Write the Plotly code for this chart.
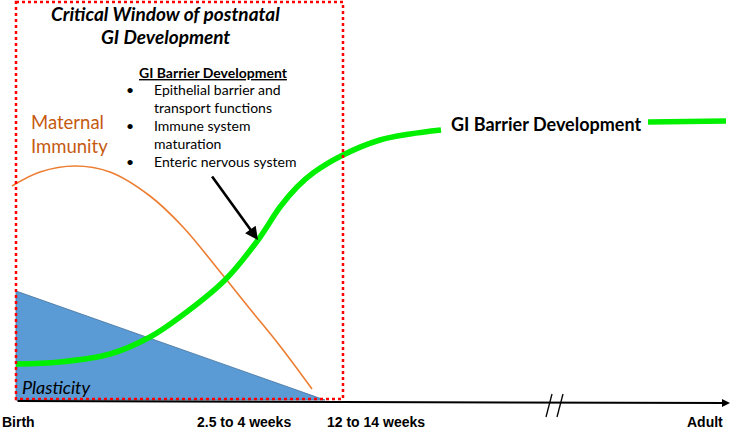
import plotly.graph_objects as go

# ---- data (in picture coordinates: x to the right, y downward) ----
maternal_x = [12, 40, 75, 110, 150, 183, 217, 250, 280, 312]
maternal_y = [186, 172, 166, 172, 196, 227, 268, 309, 346, 389]

barrier_x = [16, 60, 110, 150, 180, 225, 258, 280, 297, 313, 343, 380, 410, 441]
barrier_y = [364, 362, 354, 337, 317, 280, 240, 207, 187, 173, 155, 140, 134, 130]

barrier_tail_x = [648, 726]
barrier_tail_y = [122, 121]

plasticity_x = [16, 16, 325, 16]
plasticity_y = [291, 400, 400, 291]

window_x = [16, 343]
window_y = [2, 399]

tick_labels = ["Birth", "2.5 to 4 weeks", "12 to 14 weeks", "Adult"]
tick_x = [0, 244, 376, 725]
tick_anchor = ["left", "center", "center", "right"]

bullets = ["Epithelial barrier and", "transport functions", "Immune system",
           "maturation", "Enteric nervous system"]
bullet_y = [89, 107, 125, 143, 161]
bullet_marks = [True, False, True, False, True]

FONT = "Lato"

fig = go.Figure()

fig.add_trace(go.Scatter(x=plasticity_x, y=plasticity_y, fill="toself",
                         fillcolor="#5B9BD5", mode="lines",
                         line=dict(color="#41719C", width=0.8), hoverinfo="skip"))
fig.add_trace(go.Scatter(x=maternal_x, y=maternal_y, mode="lines",
                         line=dict(color="#ED7D31", width=1.6, shape="spline", smoothing=1),
                         hoverinfo="skip"))
fig.add_trace(go.Scatter(x=barrier_x, y=barrier_y, mode="lines",
                         line=dict(color="#00F000", width=5.5, shape="spline", smoothing=1),
                         hoverinfo="skip"))
fig.add_trace(go.Scatter(x=barrier_tail_x, y=barrier_tail_y, mode="lines",
                         line=dict(color="#00F000", width=5.5), hoverinfo="skip"))

shapes = [
    dict(type="rect", x0=window_x[0], x1=window_x[1], y0=window_y[0], y1=window_y[1],
         line=dict(color="#FF0000", width=2.5, dash="dot"), layer="above"),
    dict(type="line", x0=552, y0=394, x1=546, y1=417, line=dict(color="black", width=1.3)),
    dict(type="line", x0=563, y0=394, x1=557, y1=417, line=dict(color="black", width=1.3)),
]

ann = []
ann.append(dict(x=730, y=403, ax=16, ay=401, xref="x", yref="y", axref="x", ayref="y",
                text="", showarrow=True, arrowhead=2, arrowsize=0.8, arrowwidth=2,
                arrowcolor="black"))
ann.append(dict(x=258, y=240, ax=211, ay=175, xref="x", yref="y", axref="x", ayref="y",
                text="", showarrow=True, arrowhead=2, arrowsize=1, arrowwidth=2.6,
                arrowcolor="black"))

for t, xx, an in zip(tick_labels, tick_x, tick_anchor):
    ann.append(dict(x=xx, y=422, text="<b>" + t + "</b>", showarrow=False,
                    xanchor=an, yanchor="middle",
                    font=dict(family="Liberation Sans", size=14, color="black")))

ann.append(dict(x=165, y=13, text="<b><i>Critical Window of postnatal</i></b>",
                showarrow=False, xanchor="center", yanchor="middle",
                font=dict(family=FONT, size=19, color="black")))
ann.append(dict(x=165, y=36, text="<b><i>GI Development</i></b>",
                showarrow=False, xanchor="center", yanchor="middle",
                font=dict(family=FONT, size=19, color="black")))

ann.append(dict(x=137, y=72, text="<b><u>GI Barrier Development</u></b>",
                showarrow=False, xanchor="left", yanchor="middle",
                font=dict(family=FONT, size=14, color="black")))
for t, yy, m in zip(bullets, bullet_y, bullet_marks):
    ann.append(dict(x=152, y=yy, text=t, showarrow=False, xanchor="left",
                    yanchor="middle", font=dict(family=FONT, size=14, color="black")))
    if m:
        ann.append(dict(x=130, y=yy, text="•", showarrow=False, xanchor="center",
                        yanchor="middle", font=dict(family=FONT, size=14, color="black")))

ann.append(dict(x=29, y=122, text="Maternal", showarrow=False, xanchor="left",
                yanchor="middle", font=dict(family=FONT, size=18.5, color="#C55A11")))
ann.append(dict(x=29, y=146, text="Immunity", showarrow=False, xanchor="left",
                yanchor="middle", font=dict(family=FONT, size=18.5, color="#C55A11")))

ann.append(dict(x=449, y=124, text="<b>GI Barrier Development</b>", showarrow=False,
                xanchor="left", yanchor="middle",
                font=dict(family=FONT, size=18, color="black")))

ann.append(dict(x=20, y=387, text="<i>Plasticity</i>", showarrow=False, xanchor="left",
                yanchor="middle", font=dict(family=FONT, size=18, color="black")))

fig.update_layout(
    width=731, height=434, margin=dict(l=0, r=0, t=0, b=0),
    paper_bgcolor="white", plot_bgcolor="white", showlegend=False,
    xaxis=dict(range=[0, 731], visible=False, fixedrange=True),
    yaxis=dict(range=[434, 0], visible=False, fixedrange=True),
    shapes=shapes, annotations=ann,
)

fig.write_html("out.html", config={"displayModeBar": False},
               post_script="document.body.style.margin='0';document.body.style.overflow='hidden';")
